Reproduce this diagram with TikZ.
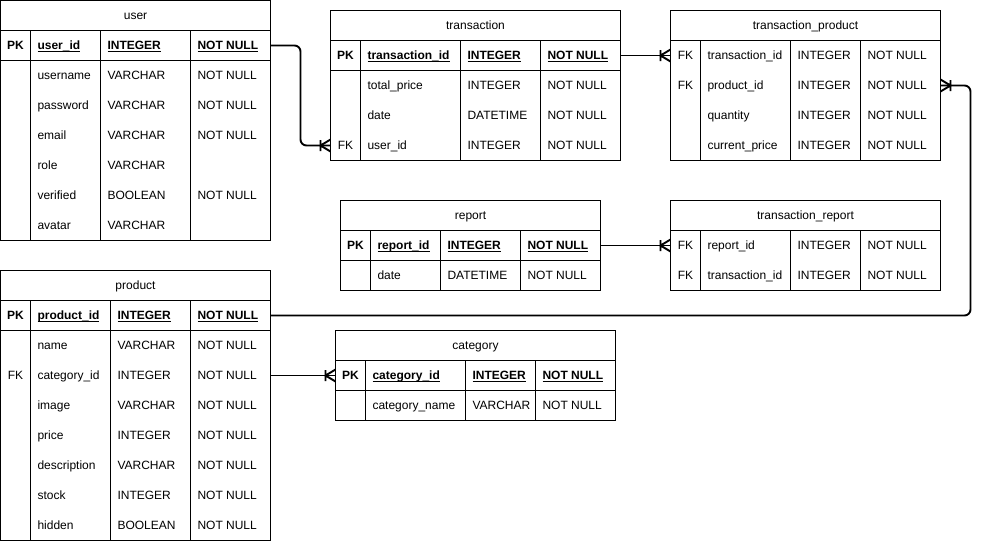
\documentclass[tikz,border=0pt]{standalone}
\usepackage{fontspec}
\setmainfont{Liberation Sans}

\newcommand\cellfont{\fontsize{12}{14}\selectfont}
% bold + underlined key fields
\newcommand\keyfield[1]{\textbf{\underline{\smash{#1}}}}

\tikzset{
  tablebox/.style={draw=black, line width=1pt, fill=white, inner sep=0pt, outer sep=0pt},
  rowarea/.style={inner sep=0pt, outer sep=0pt, minimum height=30pt},
  celltext/.style={inner sep=0pt, outer sep=0pt, font=\cellfont, text height=8.6pt, text depth=0pt},
  tablerule/.style={draw=black, line width=1pt},
  conn/.style={draw=black, line width=1.9pt, rounded corners=6pt},
  crowfoot/.pic={
    \draw[black, line width=1.9pt] (0,-6) -- (-10,0) -- (0,6) (-10,-5.5) -- (-10,5.5);
  }
}

% table frame with title band: name, x, y, width, height, title
\newcommand\ertable[6]{%
  \def\tabX{#2}\def\tabW{#4}%
  \node[tablebox, minimum width=#4pt, minimum height=#5pt, anchor=north west] (#1) at (#2,#3) {};
  \node[celltext, anchor=center] (#1-title) at ({#2+#4/2},{#3+15}) {#6};
  \draw[tablerule] (#2,{#3+30}) -- ({#2+#4},{#3+30});
}
% x positions of the three inner column rules
\newcommand\setcols[3]{\def\colA{#1}\def\colB{#2}\def\colC{#3}}
\newcommand\colrules[2]{%
  \draw[tablerule] (\colA,#1) -- (\colA,#2) (\colB,#1) -- (\colB,#2) (\colC,#1) -- (\colC,#2);}
% one row: name, centre y, key, field, type, constraint
\newcommand\erow[6]{%
  \node[rowarea, minimum width=\tabW pt, anchor=west] (#1) at (\tabX,#2) {};
  \node[celltext] (#1-k) at ({(\tabX+\colA)/2},#2) {#3};
  \node[celltext, anchor=west] (#1-f) at ({\colA+7},#2) {#4};
  \node[celltext, anchor=west] (#1-t) at ({\colB+7},#2) {#5};
  \node[celltext, anchor=west] (#1-c) at ({\colC+7},#2) {#6};
}

\begin{document}
\begin{tikzpicture}[x=1pt, y=-1pt]
\useasboundingbox (0,0) rectangle (982,542);
\fill[white] (0,0) rectangle (982,542);

\begin{scope}[shift={(0.5,0.5)}]

% ---------------- user
\ertable{user}{0}{0}{270}{240}{user}
\setcols{30}{100}{190}
\colrules{30}{240}
\draw[tablerule] (0,60) -- (270,60);
\erow{user-pk}{45}{\textbf{PK}}{\keyfield{user\_id}}{\keyfield{INTEGER}}{\keyfield{NOT NULL}}
\erow{user-r1}{75}{}{username}{VARCHAR}{NOT NULL}
\erow{user-r2}{105}{}{password}{VARCHAR}{NOT NULL}
\erow{user-r3}{135}{}{email}{VARCHAR}{NOT NULL}
\erow{user-r4}{165}{}{role}{VARCHAR}{}
\erow{user-r5}{195}{}{verified}{BOOLEAN}{NOT NULL}
\erow{user-r6}{225}{}{avatar}{VARCHAR}{}

% ---------------- transaction
\ertable{tx}{330}{10}{290}{150}{transaction}
\setcols{360}{460}{540}
\colrules{40}{160}
\draw[tablerule] (330,70) -- (620,70);
\erow{tx-pk}{55}{\textbf{PK}}{\keyfield{transaction\_id}}{\keyfield{INTEGER}}{\keyfield{NOT NULL}}
\erow{tx-r1}{85}{}{total\_price}{INTEGER}{NOT NULL}
\erow{tx-r2}{115}{}{date}{DATETIME}{NOT NULL}
\erow{tx-fk}{145}{FK}{user\_id}{INTEGER}{NOT NULL}

% ---------------- transaction_product
\ertable{tp}{670}{10}{270}{150}{transaction\_product}
\setcols{700}{790}{860}
\colrules{40}{160}
\erow{tp-fk1}{55}{FK}{transaction\_id}{INTEGER}{NOT NULL}
\erow{tp-fk2}{85}{FK}{product\_id}{INTEGER}{NOT NULL}
\erow{tp-r3}{115}{}{quantity}{INTEGER}{NOT NULL}
\erow{tp-r4}{145}{}{current\_price}{INTEGER}{NOT NULL}

% ---------------- report
\ertable{rep}{340}{200}{260}{90}{report}
\setcols{370}{440}{520}
\colrules{230}{290}
\draw[tablerule] (340,260) -- (600,260);
\erow{rep-pk}{245}{\textbf{PK}}{\keyfield{report\_id}}{\keyfield{INTEGER}}{\keyfield{NOT NULL}}
\erow{rep-r1}{275}{}{date}{DATETIME}{NOT NULL}

% ---------------- transaction_report
\ertable{tr}{670}{200}{270}{90}{transaction\_report}
\setcols{700}{790}{860}
\colrules{230}{290}
\erow{tr-fk1}{245}{FK}{report\_id}{INTEGER}{NOT NULL}
\erow{tr-fk2}{275}{FK}{transaction\_id}{INTEGER}{NOT NULL}

% ---------------- product
\ertable{prod}{0}{270}{270}{270}{product}
\setcols{30}{110}{190}
\colrules{300}{540}
\draw[tablerule] (0,330) -- (270,330);
\erow{prod-pk}{315}{\textbf{PK}}{\keyfield{product\_id}}{\keyfield{INTEGER}}{\keyfield{NOT NULL}}
\erow{prod-r1}{345}{}{name}{VARCHAR}{NOT NULL}
\erow{prod-fk}{375}{FK}{category\_id}{INTEGER}{NOT NULL}
\erow{prod-r3}{405}{}{image}{VARCHAR}{NOT NULL}
\erow{prod-r4}{435}{}{price}{INTEGER}{NOT NULL}
\erow{prod-r5}{465}{}{description}{VARCHAR}{NOT NULL}
\erow{prod-r6}{495}{}{stock}{INTEGER}{NOT NULL}
\erow{prod-r7}{525}{}{hidden}{BOOLEAN}{NOT NULL}

% ---------------- category
\ertable{cat}{335}{330}{280}{90}{category}
\setcols{365}{465}{535}
\colrules{360}{420}
\draw[tablerule] (335,390) -- (615,390);
\erow{cat-pk}{375}{\textbf{PK}}{\keyfield{category\_id}}{\keyfield{INTEGER}}{\keyfield{NOT NULL}}
\erow{cat-r1}{405}{}{category\_name}{VARCHAR}{NOT NULL}

% ---------------- relationships
\draw[conn] (user-pk.east) -- ++(30,0) |- (tx-fk.west);
\pic at (tx-fk.west) {crowfoot};

\draw[conn] (tx-pk.east) -- (tp-fk1.west);
\pic at (tp-fk1.west) {crowfoot};

\draw[conn] (rep-pk.east) -- (tr-fk1.west);
\pic at (tr-fk1.west) {crowfoot};

\draw[conn] (prod-pk.east) -- ++(700,0) |- (tp-fk2.east);
\pic[rotate=180] at (tp-fk2.east) {crowfoot};

\draw[conn] (prod-fk.east) -- (cat-pk.west);
\pic at (cat-pk.west) {crowfoot};

\end{scope}
\end{tikzpicture}
\end{document}
